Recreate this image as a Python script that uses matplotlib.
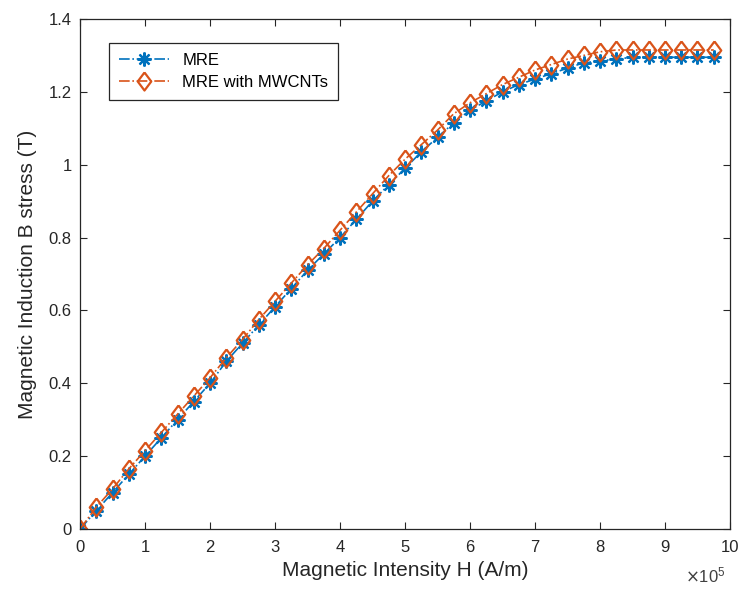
import numpy as np
import matplotlib.pyplot as plt

# 자기장 세기 (x 1e5 A/m), 0.25 간격
H = np.arange(0, 40) * 0.25

# MRE
B_mre = [0.0, 0.05, 0.10, 0.15, 0.20, 0.25, 0.30, 0.35, 0.40, 0.46,
         0.51, 0.56, 0.61, 0.66, 0.71, 0.755, 0.80, 0.85, 0.90, 0.945,
         0.99, 1.035, 1.075, 1.115, 1.15, 1.175, 1.20, 1.22, 1.235, 1.25,
         1.265, 1.28, 1.285, 1.29, 1.295, 1.295, 1.295, 1.295, 1.295, 1.295]

# MRE with MWCNTs
B_mwcnt = [0.0, 0.06, 0.11, 0.165, 0.215, 0.265, 0.315, 0.365, 0.415, 0.47,
           0.52, 0.575, 0.625, 0.675, 0.725, 0.77, 0.82, 0.87, 0.92, 0.97,
           1.015, 1.055, 1.095, 1.14, 1.17, 1.195, 1.22, 1.24, 1.26, 1.275,
           1.29, 1.30, 1.31, 1.315, 1.315, 1.315, 1.315, 1.315, 1.315, 1.315]

x_ticks = [0, 1, 2, 3, 4, 5, 6, 7, 8, 9, 10]
y_ticks = [0, 0.2, 0.4, 0.6, 0.8, 1, 1.2, 1.4]
y_ticklabels = ['0', '0.2', '0.4', '0.6', '0.8', '1', '1.2', '1.4']

plt.rcParams['font.family'] = ['Liberation Sans', 'DejaVu Sans']

# 약간 넓은 마름모 마커
diamond = [(0, 1), (0.75, 0), (0, -1), (-0.75, 0), (0, 1)]

fig = plt.figure(figsize=(7.43, 5.94), dpi=100)
ax = fig.add_axes([0.1077, 0.1094, 0.8748, 0.8586])

ax.plot(H, B_mre, linestyle='-.', color='#0072BD', marker=(8, 2, 0),
        markersize=10, markeredgewidth=1.6, linewidth=1.2, label='MRE')
ax.plot(H, B_mwcnt, linestyle='-.', color='#D95319', marker=diamond,
        markersize=13, markerfacecolor='none', markeredgewidth=1.6,
        linewidth=1.2, label='MRE with MWCNTs')

ax.set_xlim(0, 10)
ax.set_ylim(0, 1.4)
ax.set_xticks(x_ticks)
ax.set_yticks(y_ticks)
ax.set_yticklabels(y_ticklabels)

ax.tick_params(direction='in', top=True, right=True, labelsize=12,
               colors='#262626', length=5, width=0.8)
ax.tick_params(axis='x', pad=8)
ax.tick_params(axis='y', pad=6)
for s in ax.spines.values():
    s.set_color('#262626')
    s.set_linewidth(0.9)

ax.set_xlabel('Magnetic Intensity H (A/m)', fontsize=15, color='#262626', labelpad=4)
ax.set_ylabel('Magnetic Induction B stress (T)', fontsize=15, color='#262626', labelpad=8)

# x축 배율 표시
fig.text(0.976, 0.015, r'$\times\mathregular{10^5}$', fontsize=12, color='#404040',
         ha='right', va='bottom')

leg = ax.legend(loc='upper left', bbox_to_anchor=(0.032, 0.969), fontsize=12,
                fancybox=False, edgecolor='#262626', framealpha=1,
                handlelength=3, borderpad=0.6, labelspacing=0.4)
leg.get_frame().set_linewidth(0.9)

fig.savefig('out.png', dpi=100)
